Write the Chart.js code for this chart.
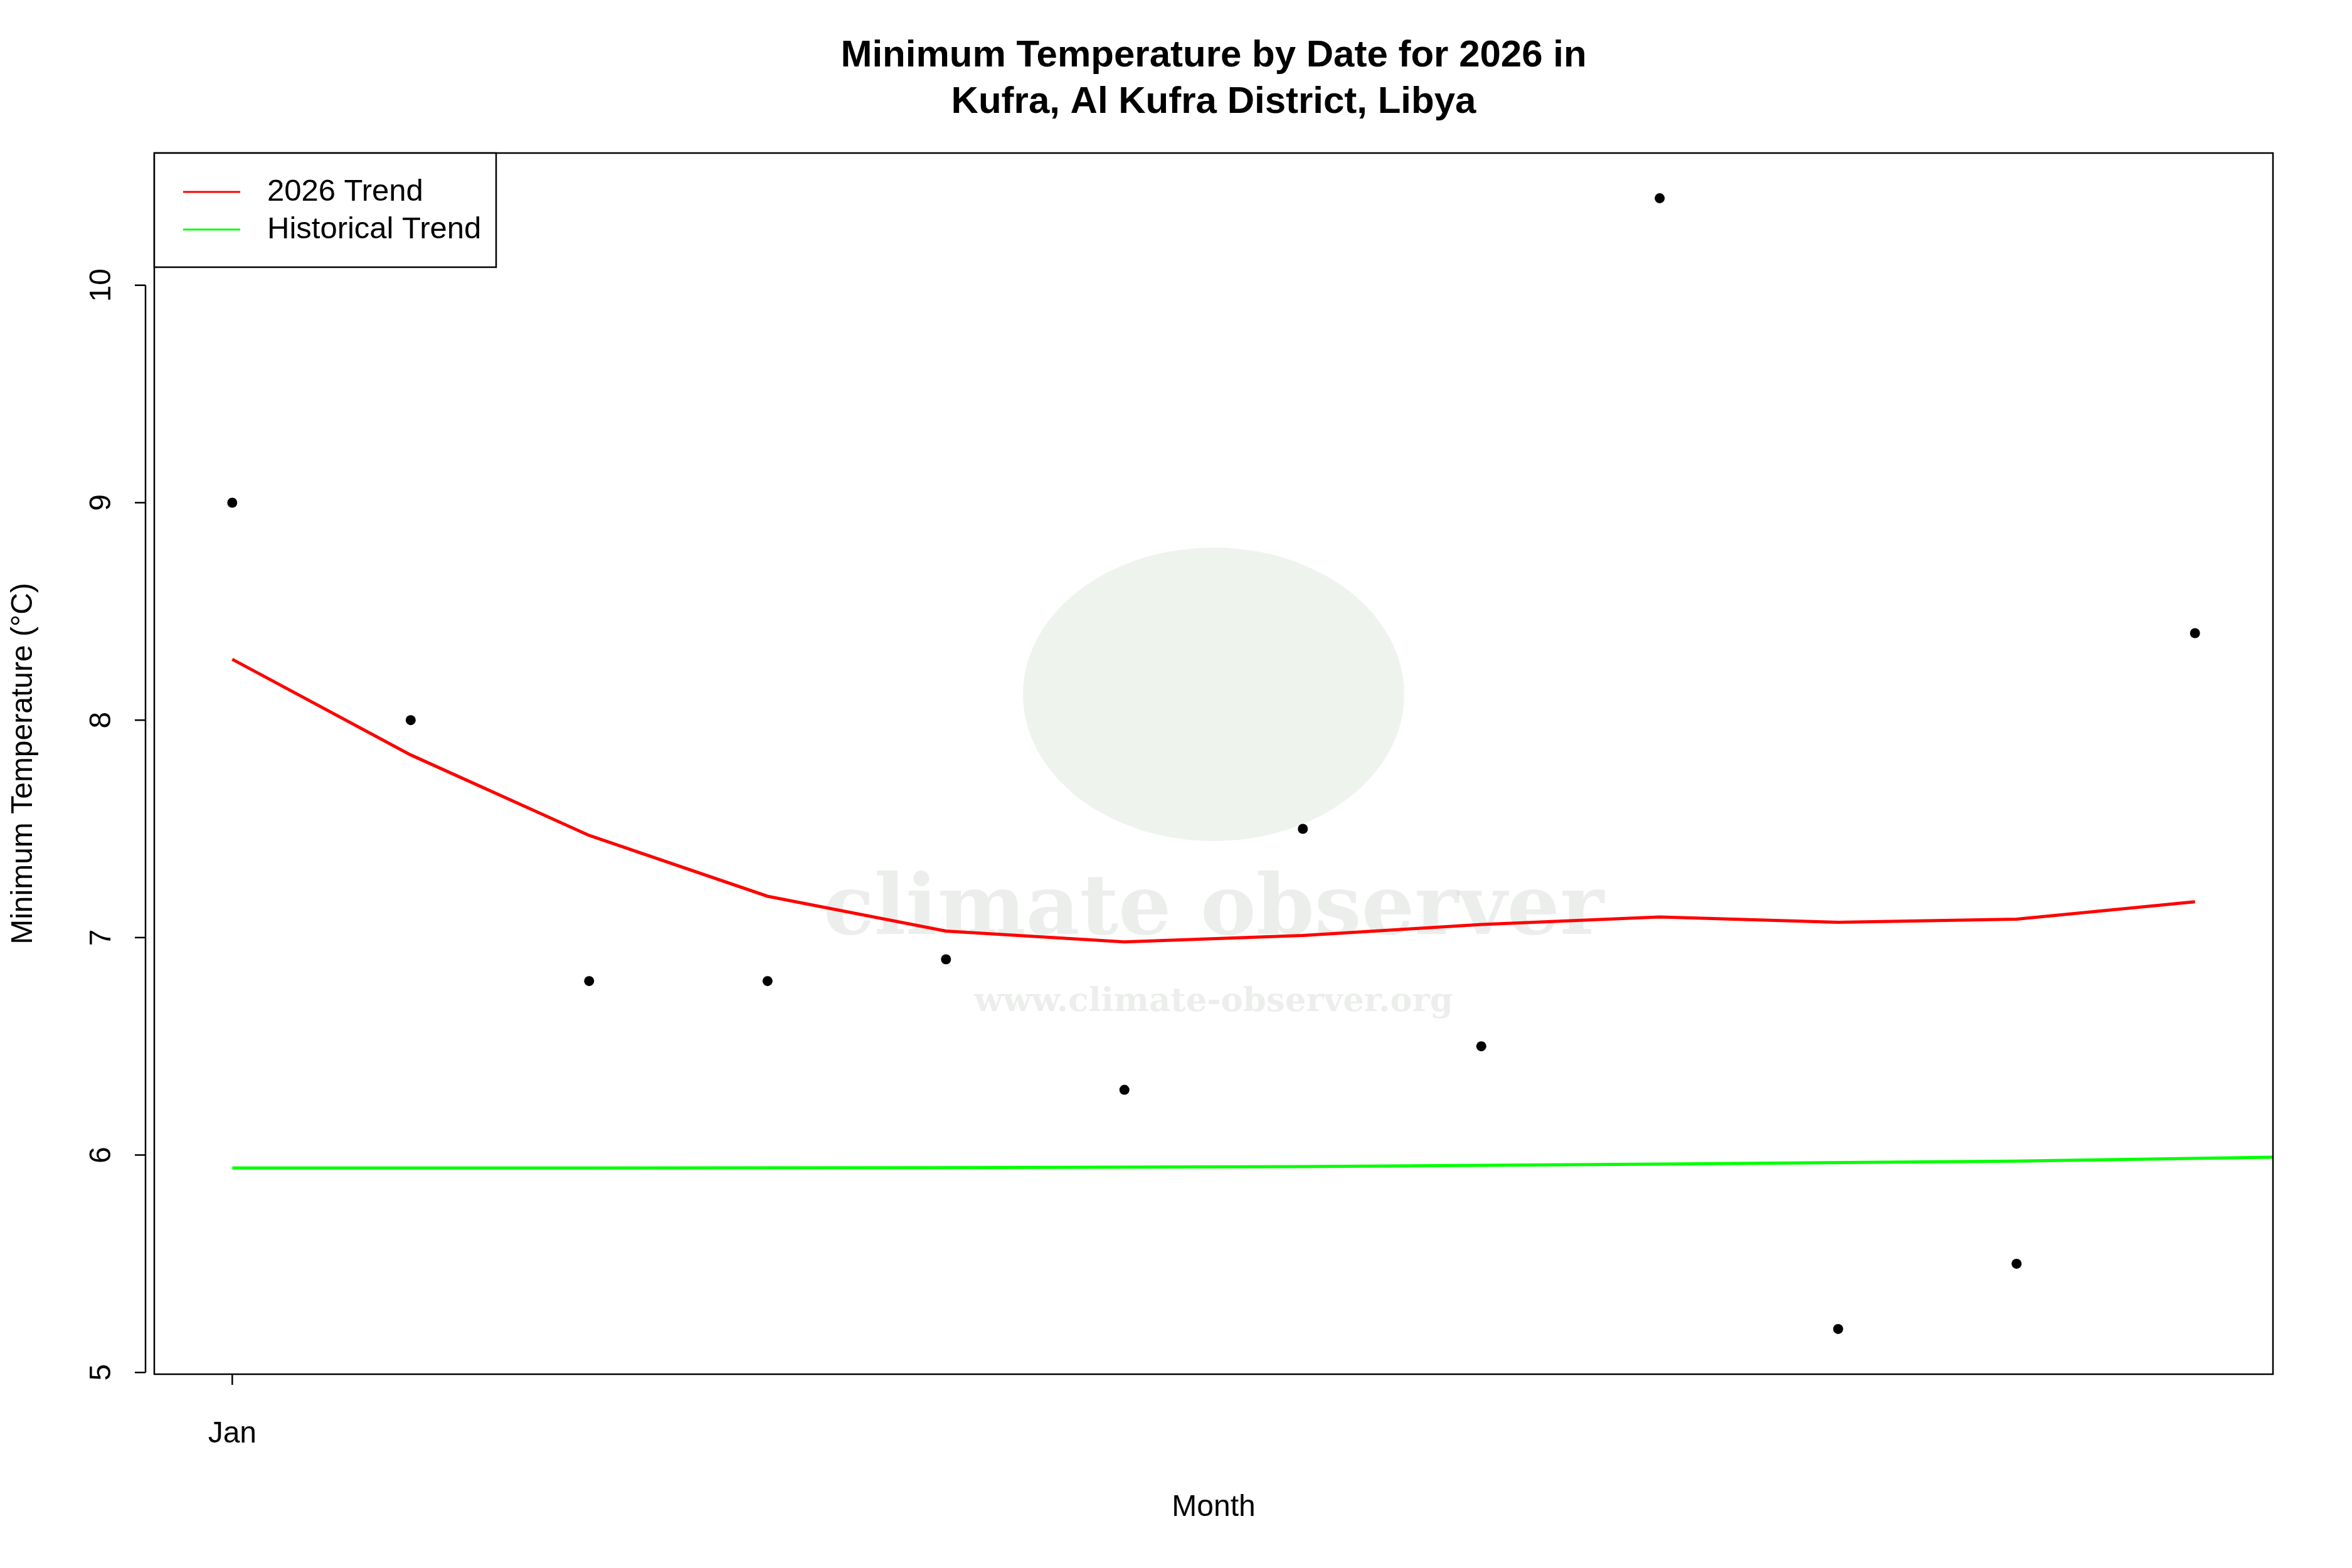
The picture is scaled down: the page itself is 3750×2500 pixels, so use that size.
<!DOCTYPE html>
<html><head><meta charset="utf-8">
<script src="https://cdn.jsdelivr.net/npm/chart.js@4/dist/chart.umd.min.js"></script>
<style>body{margin:0;background:#fff}canvas{display:block}</style>
</head><body>
<canvas id="graph" width="3750" height="2500"></canvas>
<script>
// valeurs (jour de janvier)
var jours = [1,2,3,4,5,6,7,8,9,10,11,12];
var temperatures = [9, 8, 6.8, 6.8, 6.9, 6.3, 7.5, 6.5, 10.4, 5.2, 5.5, 8.4];
var tendance2026 = [8.28, 7.84, 7.47, 7.19, 7.03, 6.98, 7.01, 7.06, 7.095, 7.07, 7.085, 7.165];
var joursHisto = [1, 3, 5, 7, 9, 11, 12.437];
var tendanceHisto = [5.94, 5.94, 5.942, 5.947, 5.958, 5.972, 5.99];
var yTicks = [5, 6, 7, 8, 9, 10];
var xTicks = [1];
var xLabels = ['Jan'];

var police = 'Liberation Sans, Arial, sans-serif';

function paires(xs, ys) {
  var res = [];
  for (var i = 0; i < xs.length; i++) res.push({x: xs[i], y: ys[i]});
  return res;
}

// dessine cadre, axes, titres et légende façon R
var habillage = {
  id: 'habillage',
  afterDraw: function(chart) {
    var c = chart.ctx, a = chart.chartArea;
    var sx = chart.scales.x, sy = chart.scales.y;
    var cx = (a.left + a.right) / 2;
    c.save();
    c.strokeStyle = '#000'; c.lineWidth = 2.5; c.fillStyle = '#000';
    c.strokeRect(a.left, a.top, a.right - a.left, a.bottom - a.top);
    // axe y
    var xa = a.left - 14;
    c.beginPath();
    c.moveTo(xa, sy.getPixelForValue(5)); c.lineTo(xa, sy.getPixelForValue(10));
    c.stroke();
    c.font = '48px ' + police; c.textAlign = 'center'; c.textBaseline = 'middle';
    yTicks.forEach(function(v) {
      var py = sy.getPixelForValue(v);
      c.beginPath(); c.moveTo(xa, py); c.lineTo(xa - 17, py); c.stroke();
      c.save(); c.translate(163, py); c.rotate(-Math.PI / 2); c.fillText(String(v), 0, 0); c.restore();
    });
    // axe x
    xTicks.forEach(function(v, i) {
      var px = sx.getPixelForValue(v);
      c.beginPath(); c.moveTo(px, a.bottom); c.lineTo(px, a.bottom + 17); c.stroke();
      c.fillText(xLabels[i], px, 2287);
    });
    // titres
    c.fillText('Month', cx, 2404);
    c.save(); c.translate(38, (a.top + a.bottom) / 2); c.rotate(-Math.PI / 2);
    c.fillText('Minimum Temperature (°C)', 0, 0); c.restore();
    c.font = 'bold 60px ' + police;
    c.fillText('Minimum Temperature by Date for 2026 in', cx, 89);
    c.fillText('Kufra, Al Kufra District, Libya', cx, 163);
    // légende
    c.fillStyle = '#fff';
    c.fillRect(a.left, a.top, 545, 182);
    c.strokeRect(a.left, a.top, 545, 182);
    c.lineWidth = 3;
    c.strokeStyle = '#ff0000';
    c.beginPath(); c.moveTo(292, 306); c.lineTo(383, 306); c.stroke();
    c.strokeStyle = '#00ff00';
    c.beginPath(); c.moveTo(292, 366); c.lineTo(383, 366); c.stroke();
    c.fillStyle = '#000'; c.textAlign = 'left'; c.font = '49px ' + police;
    c.fillText('2026 Trend', 426, 306);
    c.fillText('Historical Trend', 426, 366);
    c.restore();
  }
};

// filigrane discret
var filigrane = {
  id: 'filigrane',
  beforeDatasetsDraw: function(chart) {
    var c = chart.ctx;
    c.save();
    c.fillStyle = 'rgba(200,215,200,0.3)';
    c.beginPath(); c.ellipse(1935, 1107, 304, 234, 0, 0, Math.PI * 2); c.fill();
    c.fillStyle = 'rgba(200,205,200,0.35)';
    c.font = 'bold 133px DejaVu Serif, serif'; c.textAlign = 'center'; c.textBaseline = 'middle';
    c.fillText('climate observer', 1935, 1454);
    c.font = 'bold 53px DejaVu Serif, serif';
    c.fillText('www.climate-observer.org', 1935, 1598);
    c.restore();
  }
};

new Chart(document.getElementById('graph'), {
  type: 'scatter',
  data: {
    datasets: [
      {data: paires(jours, temperatures), backgroundColor: '#000', borderColor: '#000', pointRadius: 8, pointBorderWidth: 0, order: 1},
      {type: 'line', data: paires(jours, tendance2026), borderColor: '#ff0000', borderWidth: 5, pointRadius: 0, fill: false, order: 2},
      {type: 'line', data: paires(joursHisto, tendanceHisto), borderColor: '#00ff00', borderWidth: 5, pointRadius: 0, fill: false, order: 3}
    ]
  },
  options: {
    responsive: false, devicePixelRatio: 1, animation: false,
    layout: {padding: {left: 246, top: 244, right: 126, bottom: 309}},
    plugins: {legend: {display: false}, tooltip: {enabled: false}},
    scales: {
      x: {type: 'linear', display: false, min: 0.563, max: 12.437},
      y: {display: false, min: 4.992, max: 10.608}
    }
  },
  plugins: [filigrane, habillage]
});
</script>
</body></html>
